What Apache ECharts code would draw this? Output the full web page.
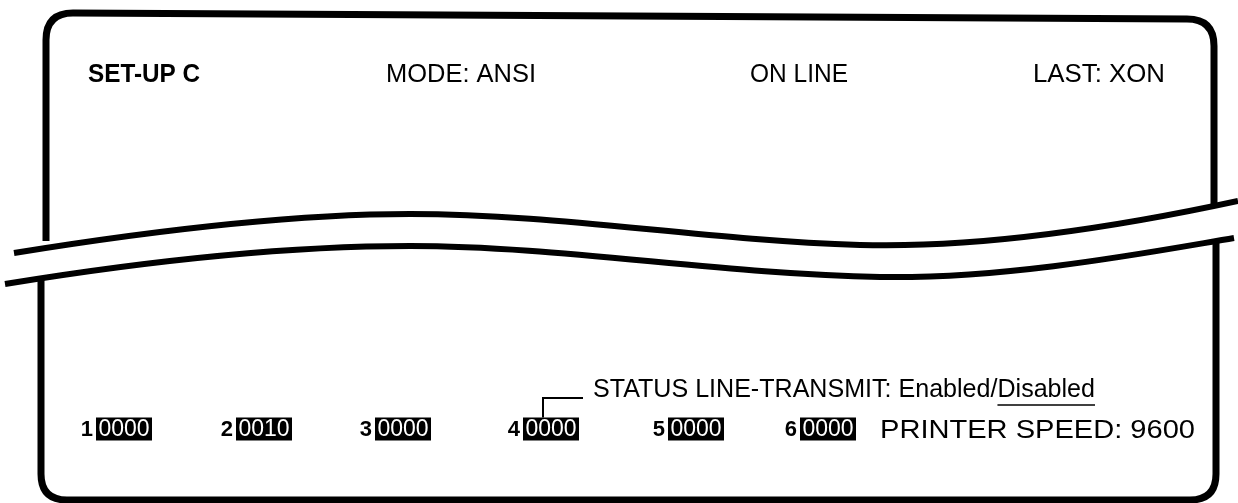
<!DOCTYPE html>
<html>
<head>
<meta charset="utf-8">
<title>SET-UP C</title>
<script src="https://cdn.jsdelivr.net/npm/echarts@6/dist/echarts.min.js"></script>
<style>
  html, body { margin: 0; padding: 0; background: #fff; }
  #chart { width: 1238px; height: 503px; }
</style>
</head>
<body>
<div id="chart"></div>
<script>
// screen values
const headerLabels = ['SET-UP C', 'MODE: ANSI', 'ON LINE', 'LAST: XON']
const bankNumbers = [1, 2, 3, 4, 5, 6]
const bankValues = ['0000', '0010', '0000', '0000', '0000', '0000']
const statusLabel = 'STATUS LINE-TRANSMIT'
const statusOptions = ['Enabled', 'Disabled']
const statusSelected = 'Disabled'
const statusBank = 4
const printerLabel = 'PRINTER SPEED'
const printerSpeed = 9600

// layout, in page pixels (the grid maps 1:1 to the page)
const W = 1238
const H = 503
const headerX = [88, 386, 750, 1033]
const headerW = [112, 150, 98, 132]
const headerY = 75
const headerSize = 25
const bankX = [96, 236, 375, 523, 668, 800]
const bankY = 429
const boxW = 56
const boxH = 23
const statusX = 593
const statusY = 390
const statusW = 502
const statusSize = 25
const printerX = 880
const printerY = 431
const printerW = 315
const printerSize = 26

const FONT = '"Liberation Sans", Arial, Helvetica, sans-serif'

const measureCtx = document.createElement('canvas').getContext('2d')
function textWidth(text, size, weight) {
  measureCtx.font = (weight || 'normal') + ' ' + size + 'px ' + FONT
  return measureCtx.measureText(text).width
}
function font(size, weight) {
  return (weight || 'normal') + ' ' + size + 'px ' + FONT
}

// frame of the screen, broken in the middle
const framePaths = [
  { d: 'M 46 241 L 46 40 Q 46 13 73 13 L 1187 19 Q 1214 19 1214 46 L 1214 208', w: 7 },
  { d: 'M 41 276 L 41 474 Q 41 500 67 500 L 1190 500 Q 1216 500 1216 474 L 1216 242', w: 7 },
  { d: 'M 14 253 C 150 231 290 214 410 214 C 560 214 700 240 860 245 C 1000 249 1150 220 1238 201', w: 6 },
  { d: 'M 5 284 C 140 262 280 246 410 246 C 560 246 720 274 880 277 C 1010 279 1150 252 1234 238', w: 6 }
]

const chart = echarts.init(document.getElementById('chart'), null, { renderer: 'canvas' })

chart.setOption({
  backgroundColor: '#fff',
  animation: false,
  grid: { left: 0, right: 0, top: 0, bottom: 0 },
  xAxis: { type: 'value', min: 0, max: W, show: false },
  yAxis: { type: 'value', min: 0, max: H, inverse: true, show: false },
  series: [
    {
      name: 'frame',
      type: 'custom',
      coordinateSystem: 'none',
      silent: true,
      data: [0],
      renderItem() {
        return {
          type: 'group',
          children: framePaths.map(p => ({
            type: 'path',
            shape: { pathData: p.d },
            style: { stroke: '#000', fill: 'none', lineWidth: p.w, lineJoin: 'round' }
          }))
        }
      }
    },
    {
      name: 'header',
      type: 'custom',
      silent: true,
      data: headerLabels.map((t, i) => [headerX[i], headerY, t]),
      renderItem(params, api) {
        const i = params.dataIndex
        const p = api.coord([headerX[i], headerY])
        const weight = i === 0 ? 'bold' : 'normal'
        const nat = textWidth(headerLabels[i], headerSize, weight)
        return {
          type: 'text',
          x: p[0],
          y: p[1],
          scaleX: headerW[i] / nat,
          style: {
            text: headerLabels[i],
            font: font(headerSize, weight),
            fill: '#000',
            align: 'left',
            verticalAlign: 'middle'
          }
        }
      }
    },
    {
      name: 'banks',
      type: 'custom',
      silent: true,
      data: bankNumbers.map((n, i) => [bankX[i], bankY, n, bankValues[i]]),
      renderItem(params, api) {
        const i = params.dataIndex
        const p = api.coord([bankX[i], bankY])
        const children = [
          {
            type: 'text',
            x: p[0] - 3,
            y: p[1] + 1,
            style: { text: String(bankNumbers[i]), font: font(22, 'bold'), fill: '#000', align: 'right', verticalAlign: 'middle' }
          },
          {
            type: 'rect',
            shape: { x: p[0], y: p[1] - boxH / 2, width: boxW, height: boxH },
            style: { fill: '#000' }
          },
          {
            type: 'text',
            x: p[0] + boxW / 2,
            y: p[1] + 1,
            style: { text: bankValues[i], font: font(23), fill: '#fff', align: 'center', verticalAlign: 'middle' }
          }
        ]
        if (bankNumbers[i] === statusBank) {
          const s = api.coord([statusX, statusY])
          children.push({
            type: 'polyline',
            shape: { points: [[p[0] + 20, p[1] - boxH / 2], [p[0] + 20, s[1] + 8], [s[0] - 10, s[1] + 8]] },
            style: { stroke: '#000', fill: 'none', lineWidth: 2 }
          })
        }
        return { type: 'group', children }
      }
    },
    {
      name: 'status',
      type: 'custom',
      silent: true,
      data: [[statusX, statusY]],
      renderItem(params, api) {
        const p = api.coord([statusX, statusY])
        const head = statusLabel + ': '
        const opts = statusOptions.join('/')
        const headW = textWidth(head, statusSize)
        const optsW = textWidth(opts, statusSize)
        const sel = statusOptions.indexOf(statusSelected)
        const before = statusOptions.slice(0, sel).map(o => o + '/').join('')
        const selX = headW + textWidth(before, statusSize)
        const selW = textWidth(statusSelected, statusSize)
        return {
          type: 'group',
          x: p[0],
          y: p[1],
          scaleX: statusW / (headW + optsW),
          children: [
            { type: 'text', x: 0, y: 0, style: { text: head, font: font(statusSize), fill: '#000', align: 'left', verticalAlign: 'middle' } },
            { type: 'text', x: headW, y: 0, style: { text: opts, font: font(statusSize), fill: '#000', align: 'left', verticalAlign: 'middle' } },
            { type: 'line', shape: { x1: selX, y1: 15, x2: selX + selW, y2: 15 }, style: { stroke: '#000', lineWidth: 1.5 } }
          ]
        }
      }
    },
    {
      name: 'printer',
      type: 'custom',
      silent: true,
      data: [[printerX, printerY]],
      renderItem(params, api) {
        const p = api.coord([printerX, printerY])
        const txt = printerLabel + ': ' + printerSpeed
        return {
          type: 'text',
          x: p[0],
          y: p[1],
          scaleX: printerW / textWidth(txt, printerSize),
          style: { text: txt, font: font(printerSize), fill: '#000', align: 'left', verticalAlign: 'middle' }
        }
      }
    }
  ]
})
</script>
</body>
</html>
